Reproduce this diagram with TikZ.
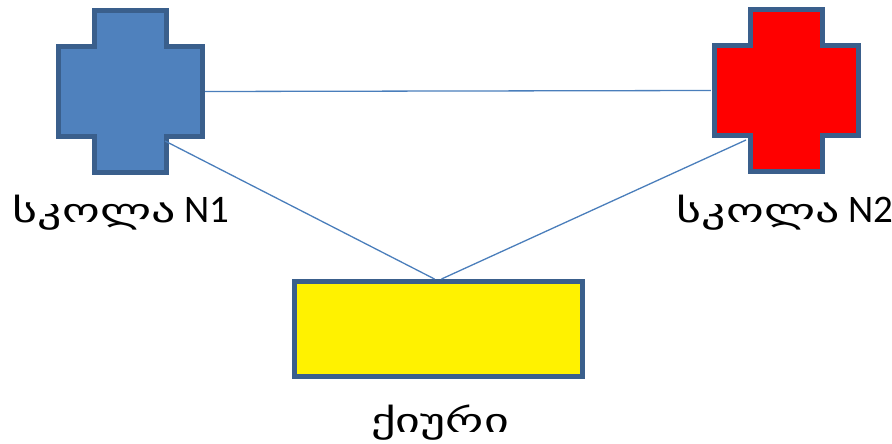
\documentclass[tikz,border=0pt]{standalone}
\usepackage{fontspec}
\setmainfont{Carlito}
\newfontfamily\geofont[Script=Georgian,Scale=0.85,FakeStretch=1.45]{DejaVu Sans}
\usetikzlibrary{positioning}

\definecolor{schoolblue}{HTML}{4F81BD}
\definecolor{edgeblue}{HTML}{3A5F8C}
\definecolor{linkblue}{HTML}{4A7EBB}

\tikzset{
  crossline/.style={draw=edgeblue,line width=5pt,line join=miter},
  hole/.style={inner sep=0pt,minimum width=150pt,minimum height=166pt},
  link/.style={draw=linkblue,line width=1.3pt},
  caption/.style={inner sep=0pt,anchor=base,font=\fontsize{39}{45}\selectfont}
}

\begin{document}
\begin{tikzpicture}[x=1pt,y=-1pt]
\useasboundingbox (0,0) rectangle (892,444);

% the two schools
\foreach \cx/\cy/\col/\nm in {130/91.5/schoolblue/s1,786/90.5/red/s2}{
  \begin{scope}[shift={(\cx,\cy)}]
  \draw[crossline,fill=\col] (-36,-80.5) -- (36,-80.5) -- (36,-44.5) -- (72,-44.5)
    -- (72,44.5) -- (36,44.5) -- (36,80.5) -- (-36,80.5) -- (-36,44.5)
    -- (-72,44.5) -- (-72,-44.5) -- (-36,-44.5) -- cycle;
  \end{scope}
  \node[hole] (\nm) at (\cx,\cy) {};
}
\coordinate (s1-in) at (165,141);
\coordinate (s2-in) at (746,140);

% the church
\node[draw=edgeblue,line width=5pt,fill=yellow,inner sep=0pt,
  minimum width=288pt,minimum height=95pt] (church) at (438.5,329) {};

\draw[link] (s1.east) -- (s2.west);
\draw[link] (s1-in) -- ([xshift=-4pt]church.north);
\draw[link] (s2-in) -- ([xshift=3pt]church.north);

\node[caption] (l1) at (121,222) {{\geofont სკოლა} N1};
\node[caption] (l2) at (785,222) {{\geofont სკოლა} N2};
\node[caption] (l3) at (440,432) {\geofont ქიური};
\end{tikzpicture}
\end{document}
